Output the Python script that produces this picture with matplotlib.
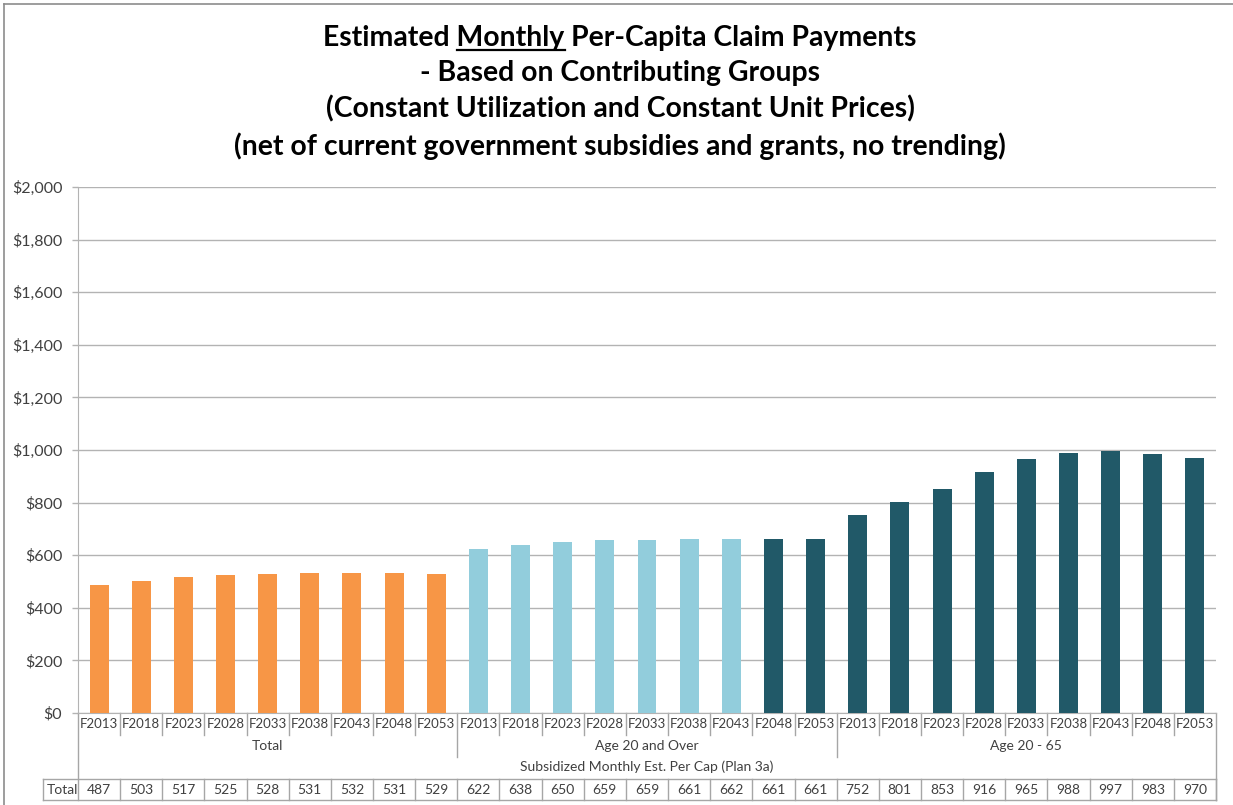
import matplotlib
matplotlib.use("Agg")
import matplotlib.pyplot as plt
from matplotlib import transforms
from matplotlib.lines import Line2D
from matplotlib.ticker import FuncFormatter

plt.rcParams['font.family'] = ['Lato', 'DejaVu Sans']

years = ["F2013", "F2018", "F2023", "F2028", "F2033", "F2038", "F2043", "F2048", "F2053"]
groups = ["Total", "Age 20 and Over", "Age 20 - 65"]
total = [487, 503, 517, 525, 528, 531, 532, 531, 529]
age20_over = [622, 638, 650, 659, 659, 661, 662, 661, 661]
age20_65 = [752, 801, 853, 916, 965, 988, 997, 983, 970]
outer_label = "Subsidized Monthly Est. Per Cap (Plan 3a)"
row_label = "Total"

ORANGE = "#F79646"
LIGHT = "#92CDDC"
TEAL = "#215968"
GRID = "#B3B3B3"
EDGE = "#A6A6A6"
TXT = "#404040"

values = total + age20_over + age20_65
colors = [ORANGE] * 9 + [LIGHT] * 7 + [TEAL] * 2 + [TEAL] * 9
n = len(values)

W, H = 1233, 805
fig = plt.figure(figsize=(W / 100, H / 100), dpi=100)
# plot area in pixels: x 78..1216, y 187..713
L, R, T, B = 78, 1216, 187, 713
ax = fig.add_axes([L / W, 1 - B / H, (R - L) / W, (B - T) / H])

x = list(range(n))
ax.bar(x, values, width=0.45, color=colors, zorder=3)
ax.set_xlim(-0.5, n - 0.5)
ax.set_ylim(0, 2000)
ax.set_yticks(range(0, 2001, 200))
ax.yaxis.set_major_formatter(FuncFormatter(lambda v, p: "\\$" + format(int(v), ",")))
ax.grid(axis="y", color=GRID, lw=1, zorder=0)
ax.tick_params(axis="y", length=4.3, width=1, color=GRID, labelsize=11.5, pad=7,
               labelcolor=TXT)
ax.set_xticks([])
for s in ["top", "right"]:
    ax.spines[s].set_visible(False)
ax.spines["left"].set_color(GRID)
ax.spines["bottom"].set_color(GRID)

# label rows below the axis: x in data units, y in axes fraction
tr = transforms.blended_transform_factory(ax.transData, ax.transAxes)
def ay(py):
    return (B - py) / (B - T)

def vline(xd, y0, y1):
    ax.add_line(Line2D([xd, xd], [ay(y0), ay(y1)], transform=tr, color=EDGE,
                       lw=1, clip_on=False))

def hline(x0, x1, py):
    ax.add_line(Line2D([x0, x1], [ay(py), ay(py)], transform=tr, color=EDGE,
                       lw=1, clip_on=False))

for i in range(n):
    ax.text(i, ay(724), years[i % 9], transform=tr, ha="center", va="center",
            fontsize=9.5, color=TXT)
    if i % 9 != 0:
        vline(i - 0.5, B, 735)

for g, name in enumerate(groups):
    ax.text(g * 9 + 4, ay(746), name, transform=tr, ha="center", va="center",
            fontsize=10, color=TXT)
for g in range(1, 3):
    vline(g * 9 - 0.5, B, 757)

ax.text((n - 1) / 2, ay(767), outer_label, transform=tr, ha="center", va="center",
        fontsize=10, color=TXT)

# axis side borders run down to the data table
vline(-0.5, B, 800)
vline(n - 0.5, B, 800)

# data table
hx = -0.5 - 35 / ((R - L) / n)
hline(hx, n - 0.5, 779)
hline(hx, n - 0.5, 800)
vline(hx, 779, 800)
ax.text(hx + 0.08, ay(789.5), row_label, transform=tr, ha="left", va="center",
        fontsize=10, color=TXT)
for i, v in enumerate(values):
    vline(i + 0.5, 779, 800)
    ax.text(i, ay(789.5), str(v), transform=tr, ha="center", va="center",
            fontsize=10, color=TXT)

# title, first line has "Monthly" underlined
title_lines = ["Estimated Monthly Per-Capita Claim Payments",
               "- Based on Contributing Groups",
               "(Constant Utilization and Constant Unit Prices)",
               "(net of current government subsidies and grants, no trending)"]
title_y = [38, 73, 109, 146]
TSIZE = 20.4
tkw = dict(ha="center", va="center", fontsize=TSIZE, fontweight="bold", color="black")
cx = 620 / W
texts = [fig.text(cx, 1 - yy / H, s, **tkw) for s, yy in zip(title_lines, title_y)]

fig.canvas.draw()
rend = fig.canvas.get_renderer()
def width_of(s):
    t = fig.text(0, 0, s, fontsize=TSIZE, fontweight="bold")
    w = t.get_window_extent(rend).width
    t.remove()
    return w
bb = texts[0].get_window_extent(rend)
w_pre = width_of("Estimated Monthly")
w_m = width_of("Monthly")
ux0 = bb.x0 + w_pre - w_m
ux1 = bb.x0 + w_pre
uy = bb.y0 + 1
fig.add_artist(Line2D([ux0 / W, ux1 / W], [uy / H, uy / H], color="black", lw=1.6))

# chart frame
fig.add_artist(Line2D([4 / W, 4 / W], [0, 1 - 4 / H], color="#8C8C8C", lw=1.2))
fig.add_artist(Line2D([4 / W, 1], [1 - 4 / H, 1 - 4 / H], color="#8C8C8C", lw=1.2))

fig.savefig("out.png", dpi=100)
